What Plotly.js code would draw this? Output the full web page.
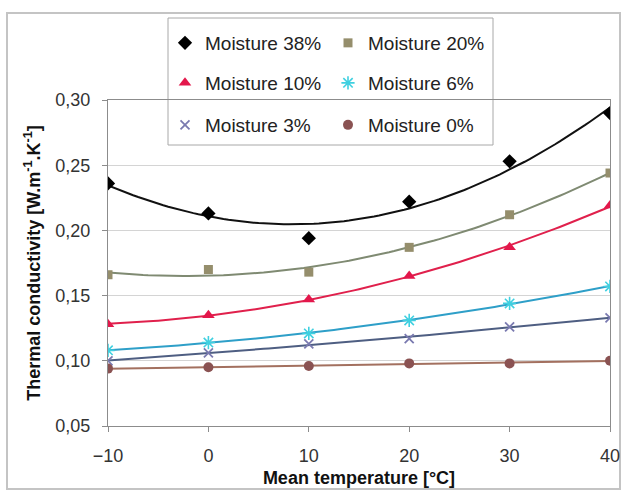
<!DOCTYPE html>
<html>
<head>
<meta charset="utf-8">
<script src="https://cdn.plot.ly/plotly-3.0.1.min.js"></script>
<style>
  html, body { margin: 0; padding: 0; background: #ffffff; }
  #chart { width: 623px; height: 491px; }
</style>
</head>
<body>
<div id="chart"></div>
<script>
// Mean temperature (°C) at which each series was measured
const temps = [-10, 0, 10, 20, 30, 40];

// Thermal conductivity (W·m-1·K-1) per moisture content
const k38 = [0.236, 0.213, 0.194, 0.222, 0.253, 0.290];
const k20 = [0.166, 0.170, 0.168, 0.187, 0.212, 0.244];
const k10 = [0.128, 0.135, 0.147, 0.165, 0.187, 0.219];
const k6  = [0.108, 0.114, 0.121, 0.131, 0.144, 0.157];
const k3  = [0.100, 0.106, 0.113, 0.117, 0.126, 0.133];
const k0  = [0.094, 0.095, 0.096, 0.098, 0.098, 0.100];

const seriesNames = ['Moisture 38%', 'Moisture 20%', 'Moisture 10%',
                     'Moisture 6%', 'Moisture 3%', 'Moisture 0%'];

const yTickVals = [0.05, 0.10, 0.15, 0.20, 0.25, 0.30];
const xTickVals = [-10, 0, 10, 20, 30, 40];

// Plot-area geometry (pixels)
const W = 623, H = 491;
const M = { l: 108, r: 13, t: 100, b: 65 };
const PW = W - M.l - M.r, PH = H - M.t - M.b;
const px2x = p => (p - M.l) / PW;          // page x -> paper x
const py2y = p => (H - M.b - p) / PH;      // page y -> paper y

// Second-order least-squares trendline through (xs, ys)
function quadFit(xs, ys) {
  let s = [0, 0, 0, 0, 0], t = [0, 0, 0];
  for (let i = 0; i < xs.length; i++) {
    let p = 1;
    for (let k = 0; k < 5; k++) { s[k] += p; if (k < 3) t[k] += p * ys[i]; p *= xs[i]; }
  }
  const A = [[s[0], s[1], s[2], t[0]], [s[1], s[2], s[3], t[1]], [s[2], s[3], s[4], t[2]]];
  for (let c = 0; c < 3; c++) {
    for (let r = c + 1; r < 3; r++) {
      const f = A[r][c] / A[c][c];
      for (let k = c; k < 4; k++) A[r][k] -= f * A[c][k];
    }
  }
  const b = [0, 0, 0];
  for (let r = 2; r >= 0; r--) {
    let v = A[r][3];
    for (let k = r + 1; k < 3; k++) v -= A[r][k] * b[k];
    b[r] = v / A[r][r];
  }
  return b;
}
function trend(xs, ys) {
  const b = quadFit(xs, ys);
  const x0 = xs[0], x1 = xs[xs.length - 1];
  const tx = [], ty = [];
  for (let i = 0; i <= 100; i++) {
    const x = x0 + (x1 - x0) * i / 100;
    tx.push(x); ty.push(b[0] + b[1] * x + b[2] * x * x);
  }
  return { tx, ty };
}

const styles = [
  { ys: k38, marker: { symbol: 'diamond', size: 11, color: '#000000' }, line: '#111111', legend: 'legend' },
  { ys: k20, marker: { symbol: 'square', size: 9, color: '#958e6c' }, line: '#7f8a72', legend: 'legend' },
  { ys: k10, marker: { symbol: 'triangle-up', size: 11, color: '#e3174b' }, line: '#e0204c', legend: 'legend2' },
  { ys: k6,  marker: { symbol: 'asterisk-open', size: 11, color: '#3fd0e0', line: { width: 1.6, color: '#3fd0e0' } }, line: '#2e9fc8', legend: 'legend2' },
  { ys: k3,  marker: { symbol: 'x-thin-open', size: 9, color: '#7a7ab0', line: { width: 1.8, color: '#7a7ab0' } }, line: '#4e5e82', legend: 'legend3' },
  { ys: k0,  marker: { symbol: 'circle', size: 10, color: '#8a5252' }, line: '#a3705f', legend: 'legend3' }
];

const traces = [];
// Trendlines first so the markers sit on top
styles.forEach((s, i) => {
  const t = trend(temps, s.ys);
  traces.push({
    x: t.tx, y: t.ty, mode: 'lines', type: 'scatter',
    line: { color: s.line, width: 2 }, showlegend: false, hoverinfo: 'skip'
  });
});
styles.forEach((s, i) => {
  traces.push({
    x: temps, y: s.ys, mode: 'markers', type: 'scatter', name: seriesNames[i],
    marker: s.marker, legend: s.legend
  });
});

const fontFam = '"Liberation Sans", Arial, sans-serif';
const legendCommon = {
  orientation: 'h', xanchor: 'left', yanchor: 'middle',
  x: px2x(165), bgcolor: 'rgba(0,0,0,0)', borderwidth: 0,
  entrywidth: 118, entrywidthmode: 'pixels', itemwidth: 30,
  font: { family: fontFam, size: 19, color: '#222222' }
};

const layout = {
  width: W, height: H,
  margin: M,
  paper_bgcolor: '#ffffff', plot_bgcolor: '#ffffff',
  separators: ',.',
  font: { family: fontFam, color: '#333333' },
  showlegend: true,
  legend:  Object.assign({}, legendCommon, { y: py2y(43) }),
  legend2: Object.assign({}, legendCommon, { y: py2y(83) }),
  legend3: Object.assign({}, legendCommon, { y: py2y(125) }),
  xaxis: {
    range: [-10, 40], tickvals: xTickVals, showgrid: false, zeroline: false,
    showline: true, mirror: true, linecolor: '#8c8c8c', linewidth: 1,
    ticks: 'outside', ticklen: 5, tickcolor: '#8c8c8c', ticklabelstandoff: 8,
    tickfont: { family: fontFam, size: 18, color: '#333333' },
    title: { text: 'Mean temperature [°C]', standoff: 6,
             font: { family: fontFam, size: 18, color: '#111111', weight: 'bold' } }
  },
  yaxis: {
    range: [0.05, 0.30], tickvals: yTickVals, tickformat: '.2f',
    showgrid: true, gridcolor: '#d4d4d4', gridwidth: 1, zeroline: false,
    showline: true, mirror: true, linecolor: '#8c8c8c', linewidth: 1,
    ticks: 'outside', ticklen: 5, tickcolor: '#8c8c8c', ticklabelstandoff: 8,
    tickfont: { family: fontFam, size: 18, color: '#333333' },
    title: { text: 'Thermal conductivity [W.m<sup>-1</sup>.K<sup>-1</sup>]', standoff: 10,
             font: { family: fontFam, size: 18, color: '#111111', weight: 'bold' } }
  },
  shapes: [
    // outer chart frame
    { type: 'rect', xref: 'paper', yref: 'paper', layer: 'below',
      x0: px2x(7), x1: px2x(620), y0: py2y(489), y1: py2y(13),
      line: { color: '#c4c4c4', width: 2 }, fillcolor: 'rgba(0,0,0,0)' },
    // legend box
    { type: 'rect', xref: 'paper', yref: 'paper', layer: 'below',
      x0: px2x(168), x1: px2x(493), y0: py2y(145), y1: py2y(18),
      line: { color: '#a8a8a8', width: 1 }, fillcolor: '#ffffff' }
  ]
};

Plotly.newPlot('chart', traces, layout, { staticPlot: true, displayModeBar: false });
</script>
</body>
</html>
